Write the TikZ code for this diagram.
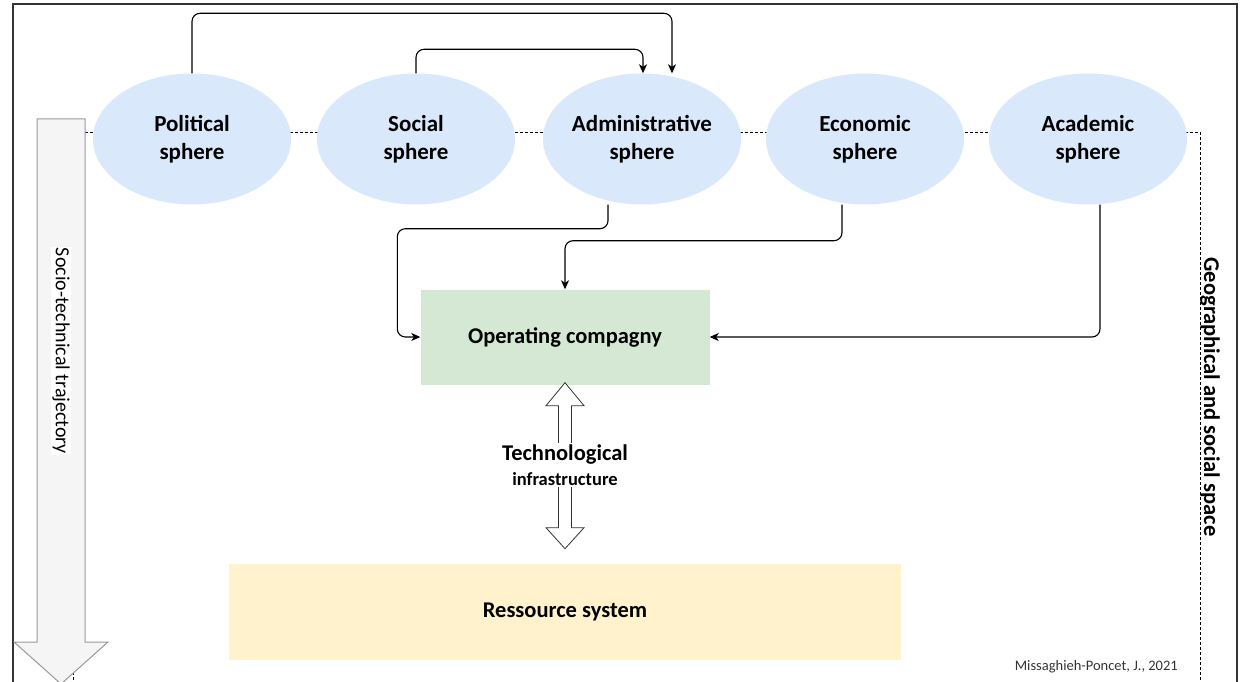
\documentclass[tikz,border=0pt]{standalone}
\usepackage{fontspec}
\setmainfont{Carlito}
\usetikzlibrary{shapes.geometric,arrows.meta}
\definecolor{sphereblue}{HTML}{DAE8FC}
\definecolor{opgreen}{HTML}{D5E8D4}
\definecolor{resyellow}{HTML}{FFF2CC}
\definecolor{trajgrey}{HTML}{F5F5F5}

\begin{document}
\begin{tikzpicture}[x=1pt,y=-1pt,>={Stealth[length=9pt,width=8pt,inset=2.5pt]},
    sphere/.style={ellipse,fill=sphereblue,minimum width=198pt,minimum height=131pt,inner sep=0pt,
      align=center,font=\fontsize{23}{28}\selectfont\bfseries},
    block/.style={rectangle,font=\fontsize{22.5}{26}\selectfont\bfseries},
    conn/.style={->,line width=1.1pt,rounded corners=8pt}]
      \path[use as bounding box,clip] (0,0) rectangle (1240,682);
      \draw[line width=1.3pt,black!80] (13,4) rectangle (1237,720);
      \draw[dash pattern=on 3pt off 2pt,line width=0.8pt] (73,132) rectangle (1200,720);
      \draw[fill=trajgrey,draw=black!40,line width=1pt]
          (37,119) -- (85,119) -- (85,642) -- (108,642) -- (61,684) -- (14,642) -- (37,642) -- cycle;
      \node[fill=white,inner sep=1pt,rotate=-90,font=\fontsize{20}{24}\selectfont] (traj) at (61,351)
          {Socio-technical trajectory};
      \foreach \name/\x/\txt in {pol/192/{Political\\sphere},soc/416/{Social\\sphere},
          adm/642/{Administrative\\sphere},eco/865/{Economic\\sphere},aca/1088/{Academic\\sphere}}
        \node[sphere] (\name) at (\x,139) {\txt};
      \node[block,fill=opgreen,minimum width=289pt,minimum height=95pt] (op) at (565,337)
          {Operating compagny};
      \node[block,fill=resyellow,minimum width=672pt,minimum height=96pt] (res) at (565,612)
          {Ressource system};
      \draw[fill=white,draw=black!80,line width=0.8pt] ([yshift=2pt]op.south)
          -- ++(19,23) -- ++(-12.5,0) -- ++(0,122) -- ++(12.5,0) -- ++(-19,21)
          -- ++(-19,-21) -- ++(12.5,0) -- ++(0,-122) -- ++(-12.5,0) -- cycle;
      \node[fill=white,inner sep=2pt,align=center,font=\fontsize{22.5}{25}\selectfont\bfseries] (tech)
          at (565,465) {Technological\\{\fontsize{18.5}{21}\selectfont infrastructure}};
      \draw[conn] (pol.north) -- ++(0,-60) -| ([xshift=30pt]adm.north);
      \draw[conn] (soc.north) -- ++(0,-24) -| ([xshift=1pt]adm.north);
      \draw[conn] ([xshift=-34pt]adm.south) -- ++(0,24) -| ([xshift=-23pt]op.west) -- (op.west);
      \draw[conn] ([xshift=-23pt]eco.south) -- ++(0,36) -| (op.north);
      \draw[conn] ([xshift=12pt]aca.south) |- (op.east);
      \node[anchor=east,inner sep=0pt,text=black!80,font=\fontsize{14.5}{17}\selectfont] (credit)
          at (1178,667) {Missaghieh-Poncet, J., 2021};
      \node[rotate=-90,inner sep=0pt,font=\fontsize{22.5}{26}\selectfont\bfseries] (geo)
          at (1210,397) {Geographical and social space};
\end{tikzpicture}
\end{document}
